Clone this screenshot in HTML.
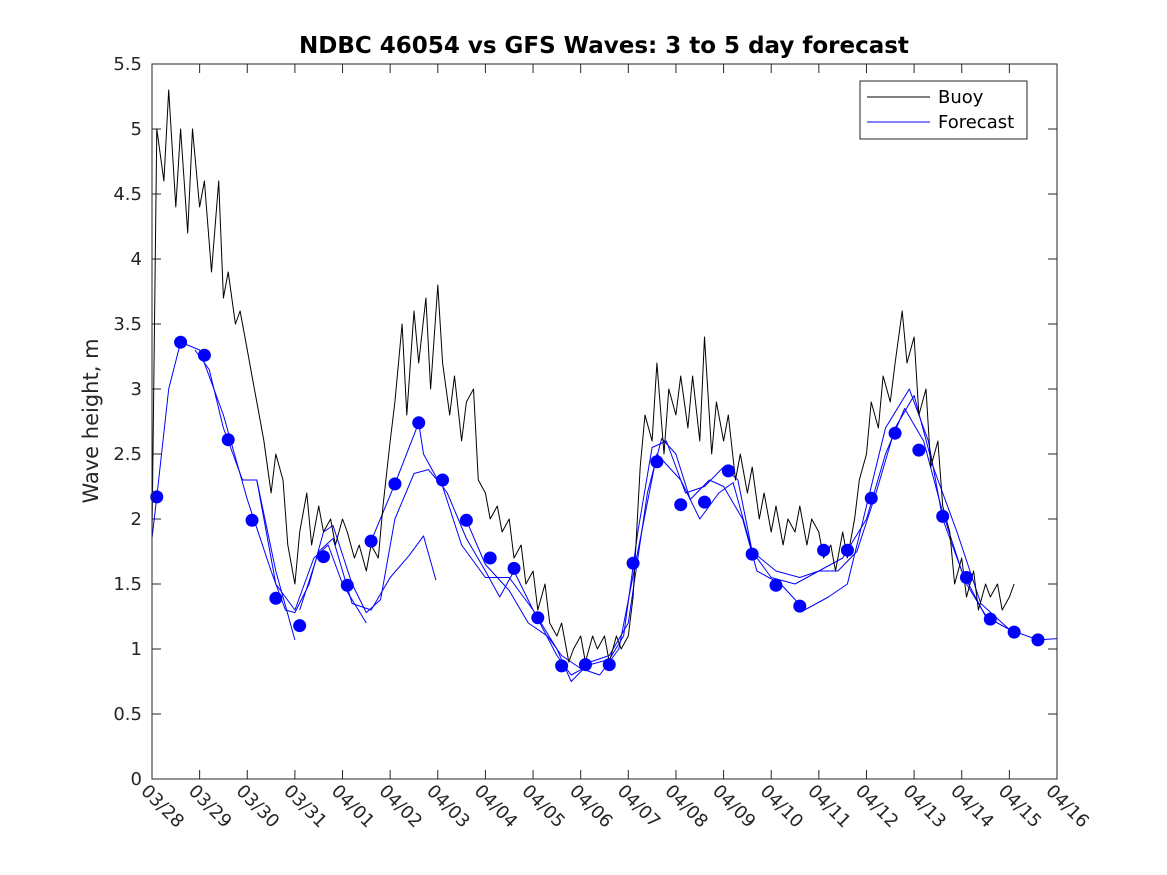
<!DOCTYPE html>
<html><head><meta charset="utf-8"><style>
body{margin:0;background:#fff;}
svg{display:block;font-family:"DejaVu Sans","Liberation Sans",sans-serif;}
</style></head><body>
<svg id="chart" width="1167" height="875" viewBox="0 0 1167 875" xmlns="http://www.w3.org/2000/svg">
<rect width="1167" height="875" fill="#fff"/>
<text x="604" y="53" text-anchor="middle" font-size="23" font-weight="bold" fill="#000">NDBC 46054 vs GFS Waves: 3 to 5 day forecast</text>
<text transform="translate(98,421) rotate(-90)" text-anchor="middle" font-size="21" fill="#262626">Wave height, m</text>
<g id="grid"></g>
<g id="series"></g>
<rect x="152" y="64" width="905" height="715" fill="none" stroke="#262626" stroke-width="1"/>
<g>
<rect x="860" y="81" width="167" height="58" fill="#fff" stroke="#262626"/>
<line x1="867" y1="97" x2="930" y2="97" stroke="#000"/>
<text x="938" y="103" font-size="18" fill="#000">Buoy</text>
<line x1="867" y1="122" x2="930" y2="122" stroke="#00f"/>
<text x="938" y="128" font-size="18" fill="#000">Forecast</text>
</g>
</svg>
<script>
const xTickLabels=["03/28","03/29","03/30","03/31","04/01","04/02","04/03","04/04","04/05","04/06","04/07","04/08","04/09","04/10","04/11","04/12","04/13","04/14","04/15","04/16"];
const yTicks=[0,0.5,1,1.5,2,2.5,3,3.5,4,4.5,5,5.5];
const buoyDays=[0,0.1,0.25,0.35,0.5,0.6,0.75,0.85,1.0,1.1,1.25,1.4,1.5,1.6,1.75,1.85,2.0,2.1,2.25,2.35,2.5,2.6,2.75,2.85,3.0,3.1,3.25,3.35,3.5,3.6,3.75,3.85,4.0,4.1,4.25,4.35,4.5,4.6,4.75,4.85,5.0,5.1,5.25,5.35,5.5,5.6,5.75,5.85,6.0,6.1,6.25,6.35,6.5,6.6,6.75,6.85,7.0,7.1,7.25,7.35,7.5,7.6,7.75,7.85,8.0,8.1,8.25,8.35,8.5,8.6,8.75,8.85,9.0,9.1,9.25,9.35,9.5,9.6,9.75,9.85,10.0,10.1,10.25,10.35,10.5,10.6,10.75,10.85,11.0,11.1,11.25,11.35,11.5,11.6,11.75,11.85,12.0,12.1,12.25,12.35,12.5,12.6,12.75,12.85,13.0,13.1,13.25,13.35,13.5,13.6,13.75,13.85,14.0,14.1,14.25,14.35,14.5,14.6,14.75,14.85,15.0,15.1,15.25,15.35,15.5,15.6,15.75,15.85,16.0,16.1,16.25,16.35,16.5,16.6,16.75,16.85,17.0,17.1,17.25,17.35,17.5,17.6,17.75,17.85,18.0,18.1,18.2,18.27];
const buoyVals=[1.87,5.0,4.6,5.3,4.4,5.0,4.2,5.0,4.4,4.6,3.9,4.6,3.7,3.9,3.5,3.6,3.3,3.1,2.8,2.6,2.2,2.5,2.3,1.8,1.5,1.9,2.2,1.8,2.1,1.9,2.0,1.8,2.0,1.9,1.7,1.8,1.6,1.8,1.7,2.1,2.6,2.9,3.5,2.8,3.6,3.2,3.7,3.0,3.8,3.2,2.8,3.1,2.6,2.9,3.0,2.3,2.2,2.0,2.1,1.9,2.0,1.7,1.8,1.5,1.6,1.3,1.5,1.2,1.1,1.2,0.9,1.0,1.1,0.9,1.1,1.0,1.1,0.9,1.1,1.0,1.1,1.4,2.4,2.8,2.6,3.2,2.5,3.0,2.8,3.1,2.7,3.1,2.6,3.4,2.5,2.9,2.6,2.8,2.3,2.5,2.2,2.4,2.0,2.2,1.9,2.1,1.8,2.0,1.9,2.1,1.8,2.0,1.9,1.7,1.8,1.6,1.9,1.7,2.0,2.3,2.5,2.9,2.7,3.1,2.9,3.2,3.6,3.2,3.4,2.8,3.0,2.4,2.6,2.1,1.9,1.5,1.7,1.4,1.6,1.3,1.5,1.4,1.5,1.3,1.4,1.5];
const run1Days=[0,0.1,0.35,0.6,1.0,1.5,2.0,2.5,2.8,3.0,3.3,3.6,3.8,4.2,4.5,4.8,5.1,5.5,5.8,6.1,6.5,7.0,7.5,8.0,8.5,8.8,9.2,9.6,9.9,10.2,10.5,10.8,11.2,11.6,12.0,12.3,12.6,13.0,13.5,14.0,14.5,15.0,15.4,15.8,16.2,16.6,17.0,17.5,18.0,18.6,19];
const run1Vals=[1.85,2.17,3.0,3.36,3.3,2.8,2.15,1.6,1.3,1.28,1.5,1.9,1.95,1.5,1.28,1.38,2.0,2.35,2.38,2.25,1.8,1.55,1.55,1.3,0.95,0.8,0.88,0.92,1.1,1.9,2.55,2.6,2.2,2.25,2.4,2.3,1.75,1.55,1.5,1.6,1.7,2.0,2.5,2.85,2.6,2.05,1.6,1.25,1.15,1.07,1.08];
const run2Days=[0.9,1.2,1.5,1.9,2.2,2.6,3.0];
const run2Vals=[3.3,3.15,2.7,2.3,2.3,1.6,1.07];
const run3Days=[2.2,2.6,3.0,3.4,3.7,4.0,4.5];
const run3Vals=[2.3,1.5,1.3,1.7,1.8,1.5,1.2];
const run4Days=[3.1,3.5,3.8,4.2,4.6,5.0,5.4,5.7,5.96];
const run4Vals=[1.3,1.75,1.85,1.35,1.3,1.55,1.72,1.87,1.53];
const run5Days=[4.6,5.1,5.6,5.7,6.0,6.2,6.6,7.0,7.3,7.6,8.0,8.5,8.8,9.2,9.6,10.0,10.4,10.7,11.0,11.3,11.7,12.0,12.4,12.7,13.2,13.7,14.2,14.6,15.0,15.4,15.9,16.3,16.6,17.1,17.6];
const run5Vals=[1.83,2.27,2.74,2.5,2.3,2.2,1.85,1.6,1.4,1.6,1.3,1.0,0.75,0.9,0.95,1.2,2.2,2.62,2.5,2.15,2.3,2.25,2.0,1.6,1.5,1.3,1.4,1.5,2.1,2.7,3.0,2.6,2.0,1.5,1.2];
const run6Days=[6.6,7.0,7.5,7.9,8.3,8.6,9.0,9.4,9.8,10.2,10.6,11.1,11.5,11.9,12.2,12.6,13.1,13.6,14.0,14.4,14.8,15.2,15.6,16.0,16.4,16.9,17.4,18.0];
const run6Vals=[1.99,1.65,1.45,1.2,1.1,0.95,0.85,0.8,1.0,1.75,2.5,2.3,2.0,2.2,2.28,1.75,1.6,1.55,1.6,1.6,1.75,2.2,2.7,2.95,2.4,1.9,1.35,1.15];
const dotDays=[0.1,0.6,1.1,1.6,2.1,2.6,3.1,3.6,4.1,4.6,5.1,5.6,6.1,6.6,7.1,7.6,8.1,8.6,9.1,9.6,10.1,10.6,11.1,11.6,12.1,12.6,13.1,13.6,14.1,14.6,15.1,15.6,16.1,16.6,17.1,17.6,18.1,18.6];
const dotVals=[2.17,3.36,3.26,2.61,1.99,1.39,1.18,1.71,1.49,1.83,2.27,2.74,2.30,1.99,1.70,1.62,1.24,0.87,0.88,0.88,1.66,2.44,2.11,2.13,2.37,1.73,1.49,1.33,1.76,1.76,2.16,2.66,2.53,2.02,1.55,1.23,1.13,1.07];

const X0=152,X1=1057,Y0=779,Y1=64;
const xS=d=>X0+(X1-X0)*d/19;
const yS=v=>Y0-(Y0-Y1)*v/5.5;
const NS="http://www.w3.org/2000/svg";
const grid=document.getElementById('grid'),series=document.getElementById('series');
function mk(tag,attrs,parent){const e=document.createElementNS(NS,tag);for(const k in attrs)e.setAttribute(k,attrs[k]);parent.appendChild(e);return e;}
yTicks.forEach(v=>{
  const y=yS(v);
  const t=mk('line',{x1:X0,x2:X0+9,y1:y,y2:y,stroke:'#262626'},grid);
  
  
  const t2=mk('line',{x1:X1-9,x2:X1,y1:y,y2:y,stroke:'#262626'},grid);
  
  
  const l=mk('text',{x:X0-10,y:y+6,'text-anchor':'end','font-size':18,fill:'#262626'},grid);
  l.textContent=String(v);
  
  
});
xTickLabels.forEach((s,i)=>{
  const x=xS(i);
  const t=mk('line',{x1:x,x2:x,y1:Y0,y2:Y0-9,stroke:'#262626'},grid);
  
  
  const t2=mk('line',{x1:x,x2:x,y1:Y1,y2:Y1+9,stroke:'#262626'},grid);
  
  
  const l=mk('text',{transform:`translate(${x-12},${Y0+13}) rotate(45)`,'font-size':18,fill:'#262626'},grid);
  l.textContent=s;
  
  
});
function line(days,vals,color,name){
  const p=days.map((d,i)=>xS(d).toFixed(1)+','+yS(vals[i]).toFixed(1)).join(' ');
  const e=mk('polyline',{points:p,fill:'none',stroke:color,'stroke-width':1,'stroke-linejoin':'round'},series);
  
  
}
line(run1Days,run1Vals,'#00f','forecast-run-1');
line(run2Days,run2Vals,'#00f','forecast-run-2');
line(run3Days,run3Vals,'#00f','forecast-run-3');
line(run4Days,run4Vals,'#00f','forecast-run-4');
line(run5Days,run5Vals,'#00f','forecast-run-5');
line(run6Days,run6Vals,'#00f','forecast-run-6');
line(buoyDays,buoyVals,'#000','buoy-line');
dotDays.forEach((d,i)=>{
  const c=mk('circle',{cx:xS(d),cy:yS(dotVals[i]),r:6.5,fill:'#00f'},series);
  
  
});
</script>
</body></html>
